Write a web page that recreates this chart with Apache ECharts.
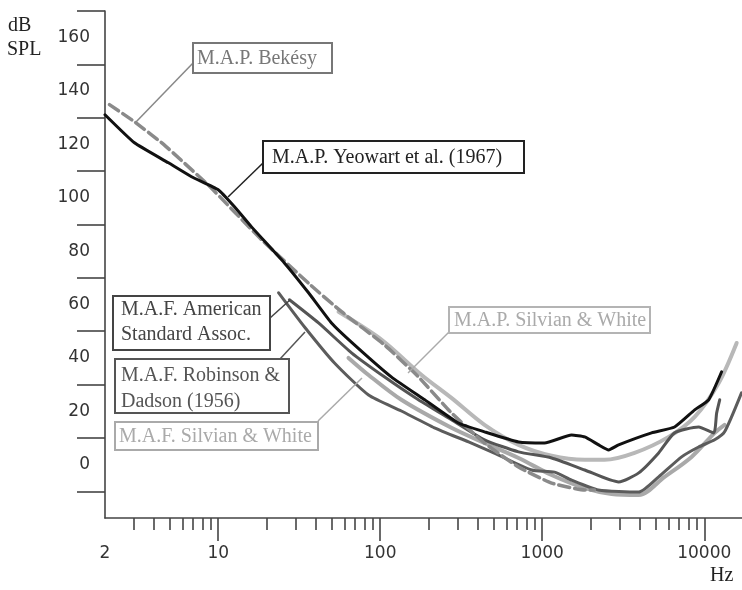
<!DOCTYPE html>
<html>
<head>
<meta charset="utf-8">
<script src="https://cdn.jsdelivr.net/npm/echarts@6/dist/echarts.min.js"></script>
<style>
html,body{margin:0;padding:0;background:#fff;}
#chart{width:742px;height:590px;}
</style>
</head>
<body>
<div id="chart"></div>
<script>
// ---- Data (frequency in Hz, level in dB SPL) ----
const bekesyMAP = [[2.13,134.9],[3.04,128.5],[4.62,119.9],[8.9,104.1],[18.5,84.3],[37,67.4],[57.7,57.3],[106,44.9],[172,32.9],[275,19.4],[440,8.1],[714,-0.9],[1142,-6.9],[1828,-9.5],[2100,-9.5]];
const yeowartMAP = [[2,131.1],[3.04,120.6],[4.93,113.1],[6.84,107.9],[10,103],[12.6,96.6],[16.05,89.1],[25.6,75.6],[36.1,64.4],[50,53.1],[69.3,44.9],[117,32.9],[188,24.3],[304,15.6],[440,12.3],[714,8.5],[1033,8.1],[1517,11.1],[1828,10.4],[2230,7.4],[2570,5.5],[2960,7.4],[4730,11.9],[6560,14.1],[8730,20.5],[10650,24.3],[12800,34.8]];
const silvianMAP = [[55.3,57.3],[102,46.8],[180,33.6],[275,25],[440,14.9],[714,7.4],[1142,3.3],[1828,1.8],[2424,1.8],[3715,4.4],[6030,10.4],[8730,17.9],[12280,30.6],[15850,45.6]];
const americanMAF = [[27.5,61.8],[41.6,53.1],[66.5,41.9],[106,32.9],[172,24.3],[275,16.8],[440,9.3],[714,4.8],[1142,2.5],[1828,-2],[2963,-6.5],[3940,-3.1],[5230,4.4],[6560,11.9],[9230,14.1],[11420,11.9],[11930,19.4],[12460,24.3]];
const robinsonMAF = [[23.6,64.4],[34.1,51.6],[52.2,38.1],[84.7,26.1],[135,20.1],[216,13.8],[351,8.5],[486,4.8],[859,-2],[1191,-2.8],[1517,-5.8],[2223,-9.5],[3940,-10.3],[5230,-4.6],[7250,2.9],[9230,6.6],[11590,9.3],[13350,12.3],[16980,26.9]];
const silvianMAF = [[63.7,40],[84.7,33.6],[135,24.3],[275,13.8],[440,8.1],[714,2.5],[1142,-3.9],[1828,-8.8],[2680,-11],[3940,-11.4],[5690,-4.6],[8350,2.9],[11590,11.9],[13350,14.9]];

// ---- Axis ticks / labels ----
const xMinHz = 2, xMaxHz = 17100;
const xMinorTickHz = [3,4,5,6,7,8,9,20,30,40,50,60,70,80,90,200,300,400,500,600,700,800,900,2000,3000,4000,5000,6000,7000,8000,9000];
const xMajorTickHz = [10,100,1000,10000];
const xLabelHz = [2,10,100,1000,10000];
const yTickDb = [-10,10,30,50,70,90,110,130,150,170];
const yLabelDb = [0,20,40,60,80,100,120,140,160];

const lg = Math.log10;
const toXY = arr => arr.map(p => [lg(p[0]), p[1]]);

const axisColor = '#444';
const chart = echarts.init(document.getElementById('chart'), null, {renderer:'canvas'});

function box(x, y, w, h, color, lines, tx, tys, textColor){
  const els = [{type:'rect', z:100, shape:{x:x, y:y, width:w, height:h}, style:{fill:'#fff', stroke:color, lineWidth:2}}];
  lines.forEach((t,i)=>{
    els.push({type:'text', z:101, x:tx, y:tys[i], style:{text:t, fontSize:20, fontFamily:'"Liberation Serif", "Times New Roman", serif', fill:textColor || color, align:'left', verticalAlign:'middle'}});
  });
  return els;
}
function leader(x1,y1,x2,y2,color){
  return {type:'line', z:99, shape:{x1:x1,y1:y1,x2:x2,y2:y2}, style:{stroke:color, lineWidth:1.5}};
}

const graphics = [].concat(
  [leader(194,62,135,123,'#888')], box(193,43,139,30,'#777',['M.A.P. Bekésy'],197,[59]),
  [leader(263,163,228,197,'#222')], box(263,141,261,32,'#222',['M.A.P. Yeowart et al. (1967)'],272,[158]),
  [leader(270,318,290,300,'#444')], box(113,296,157,54,'#444',['M.A.F. American','Standard Assoc.'],121,[310,335]),
  [leader(280,359,305,332,'#555')], box(115,359,174,54,'#555',['M.A.F. Robinson &','Dadson (1956)'],121,[376,402]),
  [leader(318,421,362,378,'#aaa')], box(115,422,203,28,'#aaa',['M.A.F. Silvian & White'],119,[437]),
  [leader(449,332,408,373,'#aaa')], box(449,307,201,26,'#b4b4b4',['M.A.P. Silvian & White'],454,[321],'#aaa'),
  [
    {type:'text', x:8, y:26, style:{text:'dB', fontSize:20, fontFamily:'"Liberation Serif", serif', fill:'#222', verticalAlign:'middle'}},
    {type:'text', x:7, y:50, style:{text:'SPL', fontSize:20, fontFamily:'"Liberation Serif", serif', fill:'#222', verticalAlign:'middle'}},
    {type:'text', x:710, y:576, style:{text:'Hz', fontSize:20, fontFamily:'"Liberation Serif", serif', fill:'#222', verticalAlign:'middle'}}
  ]
);

const lineSeries = (name, data, color, width, type, smooth) => ({
  name, type:'line', data: toXY(data), symbol:'none', smooth: smooth,
  lineStyle:{color, width, type: type || 'solid', cap:'round', join:'round'}
});

chart.setOption({
  animation:false,
  backgroundColor:'#fff',
  grid:{left:105, right:0, top:11, bottom:72},
  xAxis:[
    {type:'value', min:lg(xMinHz), max:lg(xMaxHz), position:'bottom',
     axisLine:{show:true, onZero:false, lineStyle:{color:axisColor, width:1.6}},
     axisTick:{show:true, inside:false, length:12, customValues:xMinorTickHz.map(lg), lineStyle:{color:axisColor, width:1.6}},
     axisLabel:{show:false}, splitLine:{show:false}},
    {type:'value', min:lg(xMinHz), max:lg(xMaxHz), position:'bottom',
     axisLine:{show:false, onZero:false},
     axisTick:{show:true, inside:false, length:23, customValues:xMajorTickHz.map(lg), lineStyle:{color:axisColor, width:1.6}},
     axisLabel:{show:true, customValues:xLabelHz.map(lg), formatter: v => String(Math.round(Math.pow(10, v))),
       margin:27, fontSize:17, color:'#333', fontFamily:'"DejaVu Sans", sans-serif'},
     splitLine:{show:false}}
  ],
  yAxis:{type:'value', min:-20, max:170,
    axisLine:{show:true, onZero:false, lineStyle:{color:axisColor, width:1.6}},
    axisTick:{show:true, inside:false, length:28, customValues:yTickDb, lineStyle:{color:axisColor, width:1.6}},
    axisLabel:{show:true, customValues:yLabelDb, margin:15, fontSize:17, color:'#333', fontFamily:'"DejaVu Sans", sans-serif'},
    splitLine:{show:false}},
  graphic:{elements:graphics},
  series:[
    lineSeries('M.A.P. Silvian & White', silvianMAP, '#b8b8b8', 4, 'solid', 0.3),
    lineSeries('M.A.F. Silvian & White', silvianMAF, '#a9a9a9', 4, 'solid', 0.3),
    lineSeries('M.A.F. American Standard Assoc.', americanMAF, '#555', 3, 'solid', 0.2),
    lineSeries('M.A.F. Robinson & Dadson (1956)', robinsonMAF, '#5c5c5c', 3, 'solid', 0.2),
    lineSeries('M.A.P. Bekésy', bekesyMAP, '#8a8a8a', 3.5, [11,5], 0.15),
    lineSeries('M.A.P. Yeowart et al. (1967)', yeowartMAP, '#111', 3, 'solid', 0.15)
  ]
});
</script>
</body>
</html>
